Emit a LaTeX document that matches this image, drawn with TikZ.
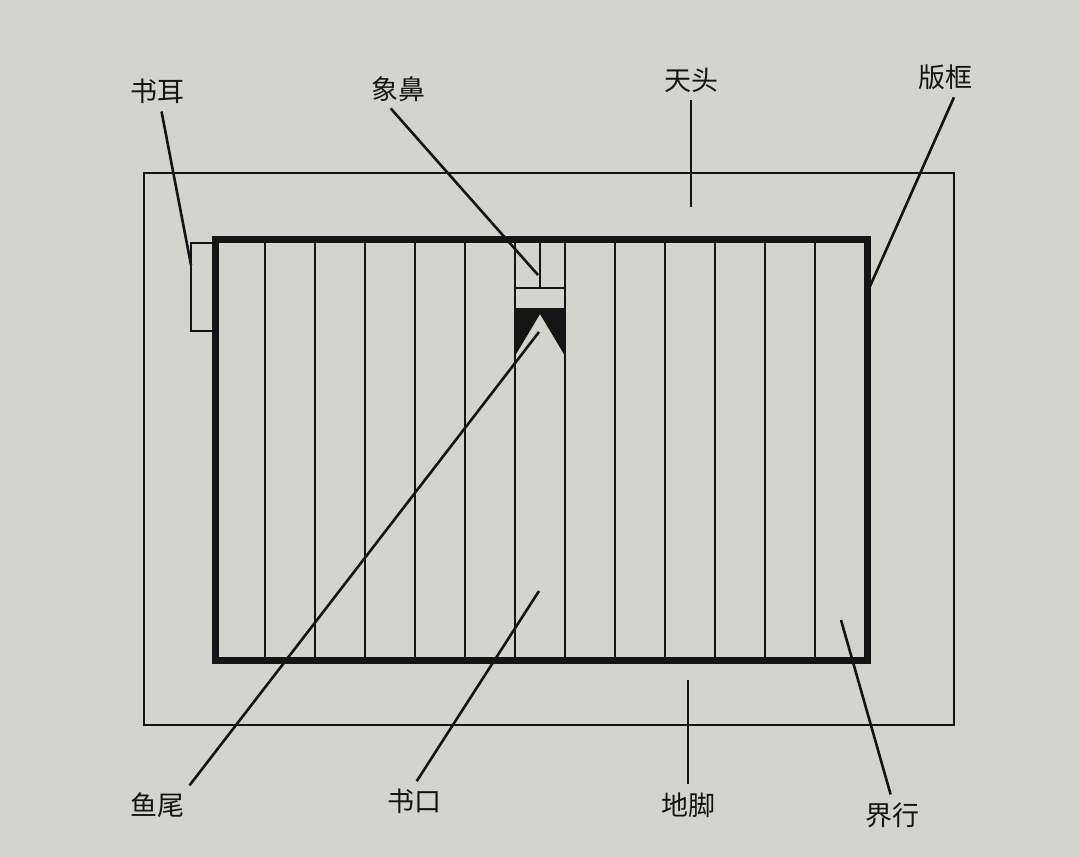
\documentclass[tikz,border=0pt]{standalone}
\usepackage{fontspec}
\newfontfamily\cjk{Noto Sans CJK SC}
\definecolor{paper}{RGB}{212,212,206}
\definecolor{ink}{RGB}{20,20,20}

\begin{document}
\begin{tikzpicture}
[x=1pt,y=-1pt,
  pageDecorate/.style={draw=ink,line width=2.8pt},
  frameDecorate/.style={draw=ink,line width=7pt},
  ruleDecorate/.style={draw=ink,line width=2.8pt},
  lineDecorate/.style={-,draw=ink,line width=2.6pt,shorten <=5pt},
  labelDecorate/.style={inner sep=3pt,text=ink,font=\cjk\fontsize{27}{29}\selectfont}]
%% paper
\fill[paper] (0,0) rectangle (1080,857);
\useasboundingbox (0,0) rectangle (1080,857);
%% page and ear
\draw[pageDecorate] (144,173) rectangle (954,725);
\draw[pageDecorate] (215,243) rectangle (191,331);
%% columns
\foreach \x in {265,315,...,815}
{
  \draw[ruleDecorate] (\x,239) -- (\x,660);
}
%% nose and fish tail
\draw[ruleDecorate] (540,239) -- (540,288) (515,288) -- (565,288);
\fill[ink] (515,308) -- (565,308) -- (565,356) -- (540,314) -- (515,356) -- cycle;
%% frame
\draw[frameDecorate] (215,239) rectangle (867,660);
%% labels
\foreach \nodename/\txt/\x/\y in {
  shuer/书耳/157/91, xiangbi/象鼻/398/89, tiantou/天头/691/80,
  bankuang/版框/945/77, yuwei/鱼尾/157/805, shukou/书口/414/801,
  dijiao/地脚/688/805, jiehang/界行/892/815}
{
  \node (\nodename) at (\x,\y) [labelDecorate] {\txt};
}
%% ends of the leaders
\foreach \nodename/\x/\y in {
  shuerEnd/191/265, xiangbiEnd/538/275, tiantouEnd/691/207,
  bankuangEnd/867/293, yuweiEnd/539/332, shukouEnd/539/591,
  dijiaoEnd/688/680, jiehangEnd/841/620}
{
  \coordinate (\nodename) at (\x,\y);
}
%% leaders
\path
\foreach \startnode/\endnode in {
  shuer.283/shuerEnd, xiangbi.236/xiangbiEnd, tiantou.south/tiantouEnd,
  bankuang.305/bankuangEnd, yuwei.28/yuweiEnd, shukou.north/shukouEnd,
  dijiao.north/dijiaoEnd, jiehang.north/jiehangEnd}
{
  (\startnode) edge[lineDecorate] (\endnode)
};
\end{tikzpicture}
\end{document}
